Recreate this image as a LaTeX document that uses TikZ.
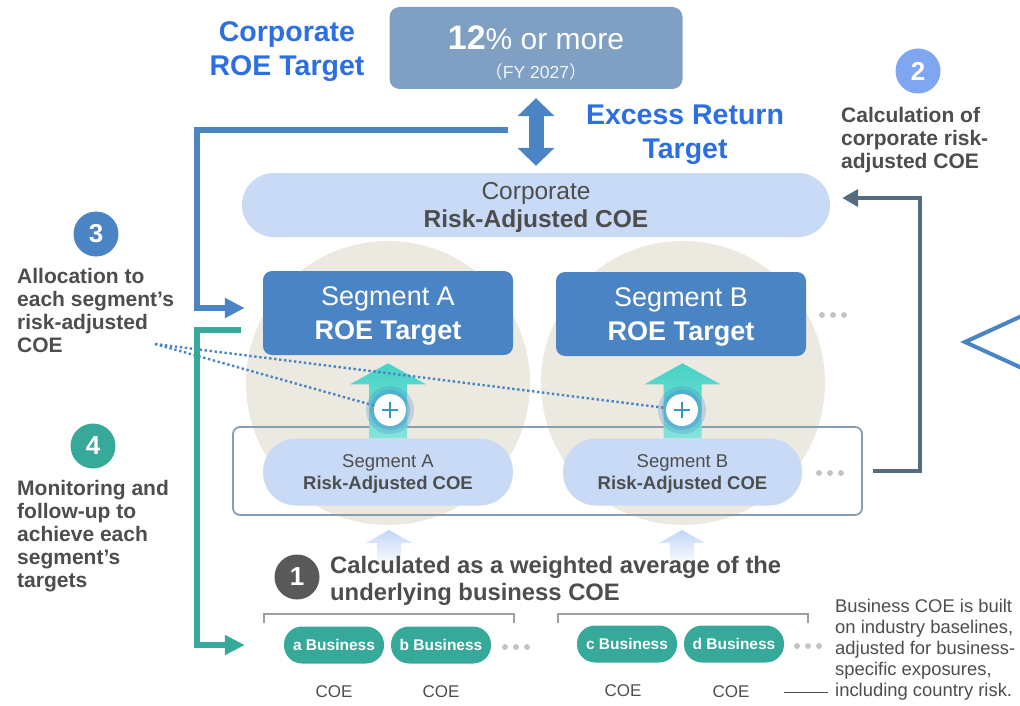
\documentclass[tikz,border=0pt]{standalone}
\usepackage{fontspec}
\setmainfont{Liberation Sans}
\newfontfamily\cjk{Noto Sans CJK JP}
\usetikzlibrary{arrows.meta,calc}

\definecolor{segblue}{HTML}{4A84C4}
\definecolor{headblue}{HTML}{2C6FE3}
\definecolor{topbox}{HTML}{7F9FC3}
\definecolor{paleblue}{HTML}{C9DAF7}
\definecolor{beige}{HTML}{ECE9E0}
\definecolor{mteal}{HTML}{36A99B}
\definecolor{slate}{HTML}{556B80}
\definecolor{txtgray}{HTML}{4D4D4D}
\definecolor{numgray}{HTML}{595959}
\definecolor{lightnum}{HTML}{7FA7F1}
\definecolor{framegray}{HTML}{8A9DB0}
\definecolor{dotgray}{HTML}{C4C4C4}
\definecolor{arrteal}{HTML}{45D3C5}
\definecolor{arrteal2}{HTML}{86E3DA}
\definecolor{plusteal}{HTML}{2E9CB8}
\definecolor{glowblue}{HTML}{3F86CF}
\definecolor{paleup}{HTML}{C3D6F7}

\newcommand{\fsz}[2]{\fontsize{#1}{#2}\selectfont}

\tikzset{
  roebox/.style={fill=segblue,rounded corners=9pt,minimum width=250pt,minimum height=84pt,
    text=white,align=center,inner sep=0pt,text depth=0pt,font=\fsz{27}{34}},
  coepill/.style={fill=paleblue,rounded corners=33pt,minimum height=67pt,
    text=txtgray,align=center,inner sep=0pt,text depth=0pt,font=\fsz{18.5}{22}},
  buspill/.style={fill=mteal,rounded corners=18pt,minimum width=100pt,minimum height=37pt,
    text=white,inner sep=0pt,font=\fsz{15.5}{18}\bfseries},
  numdot/.style={circle,minimum size=45pt,inner sep=0pt,text=white,font=\fsz{26}{26}\bfseries},
  note/.style={text=txtgray,align=left,inner sep=0pt,anchor=base west,font=\fsz{21}{23}\bfseries},
  coelbl/.style={text=txtgray,inner sep=0pt,font=\fsz{17}{20}},
  dotline/.style={segblue,line width=2.4pt,dash pattern=on 2.4pt off 2.6pt},
  plusdot/.style={circle,fill=white,minimum size=32pt,inner sep=0pt,
    path picture={\draw[plusteal,line width=2.6pt]
      ([xshift=-8pt]path picture bounding box.center) -- ([xshift=8pt]path picture bounding box.center)
      ([yshift=-8pt]path picture bounding box.center) -- ([yshift=8pt]path picture bounding box.center);}},
}

\begin{document}
\begin{tikzpicture}[x=1pt,y=-1pt]
\useasboundingbox (0,0) rectangle (1020,706);

% background discs
\node[circle,fill=beige,minimum size=284pt,inner sep=0pt] (discA) at (388,383) {};
\node[circle,fill=beige,minimum size=284pt,inner sep=0pt] (discB) at (683,383) {};

% corporate level
\node[text=headblue,align=center,anchor=base,inner sep=0pt,font=\fsz{28.5}{34}\bfseries] (corpttl) at (287,76) {Corporate\\ROE Target};
\node[fill=topbox,rounded corners=10pt,minimum width=293pt,minimum height=82pt,text=white,align=center,text depth=0pt,font=\fsz{30}{30}] (target) at (536,48)
  {\rule{0pt}{33pt}{\fsz{34}{34}\bfseries 12}\% or more\\[-1pt]{\fsz{17.5}{17.5}\color{white!90!topbox}{\cjk （}FY 2027{\cjk ）}}};
\node[text=headblue,align=center,anchor=base,inner sep=0pt,font=\fsz{28.5}{35}\bfseries] (excess) at (685,159) {Excess Return\\Target};
\node[fill=paleblue,rounded corners=32pt,minimum width=588pt,minimum height=64pt,text=txtgray,align=center,inner sep=0pt,text depth=0pt,font=\fsz{24.5}{28}] (corp) at (536,205)
  {Corporate\\\textbf{Risk-Adjusted COE}};
\draw[segblue,line width=15pt,{Triangle[length=18pt,width=36pt]}-{Triangle[length=18pt,width=36pt]}] ([yshift=-9pt]target.south) -- ([yshift=7pt]corp.north);

% segment level
\node[roebox] (roeA) at (388,313) {Segment A\\\textbf{ROE Target}};
\node[roebox] (roeB) at (681,314) {Segment B\\\textbf{ROE Target}};
\node[draw=framegray,line width=1.8pt,rounded corners=7pt,minimum width=629pt,minimum height=88pt] (frame) at (547.5,471) {};
\node[coepill,minimum width=250pt] (coeA) at (388,472) {Segment A\\\textbf{Risk-Adjusted COE}};
\node[coepill,minimum width=239pt] (coeB) at (682.5,472) {Segment B\\\textbf{Risk-Adjusted COE}};

% up arrows with plus
\foreach \s in {A,B}
  \shade[top color=arrteal,bottom color=arrteal2] (coe\s.north) ++(-19,0) -- ++(0,-54) -- ++(-19,0) -- ++(38,-21) -- ++(38,21) -- ++(-19,0) -- ++(0,54) -- cycle;
\foreach \s/\x in {A/390,B/682}{
  \fill[glowblue,opacity=0.25] (\x,410) circle (24pt);
  \fill[glowblue,opacity=0.3] (\x,410) circle (20pt);
  \node[plusdot] (plus\s) at (\x,410) {};
}
\foreach \x in {389,682}
  \shade[top color=paleup,bottom color=white] (\x,530) -- (\x+23,543) -- (\x+12,543) -- (\x+12,566) -- (\x-12,566) -- (\x-12,543) -- (\x-23,543) -- cycle;

% dots
\foreach \x/\y in {822/315,819/473,505/647,797/646}
  \foreach \d in {0,11,22} \fill[dotgray] (\x+\d,\y) circle (3pt);

% numbered notes
\node[numdot,fill=lightnum] (n2) at (918,71) {2};
\node[note] (t2) at (841,168) {Calculation of\\corporate risk-\\adjusted COE};
\node[numdot,fill=segblue] (n3) at (96,234) {3};
\node[note] (t3) at (17,352) {Allocation to\\each segment’s\\risk-adjusted\\COE};
\node[numdot,fill=mteal] (n4) at (93,446) {4};
\node[note] (t4) at (17,587) {Monitoring and\\follow-up to\\achieve each\\segment’s\\targets};
\node[numdot,fill=numgray] (n1) at (297,577) {1};
\node[note,font=\fsz{23.8}{27}\bfseries] (t1) at (330,600) {Calculated as a weighted average of the\\underlying business COE};

% business level
\draw[gray!75,line width=1.5pt] (264,623) |- (514,614) -- (514,623);
\draw[gray!75,line width=1.5pt] (558,623) |- (808,614) -- (808,623);
\node[buspill] (busA) at (334,645) {a Business};
\node[buspill] (busB) at (441,645) {b Business};
\node[buspill] (busC) at (627,644) {c Business};
\node[buspill] (busD) at (734,644) {d Business};
\node[coelbl] (cA) at (334,692) {COE};
\node[coelbl] (cB) at (441,692) {COE};
\node[coelbl] (cC) at (623,691) {COE};
\node[coelbl] (cD) at (731,692) {COE};
\node[anchor=base west,align=left,inner sep=0pt,text=txtgray,font=\fsz{18.4}{21}] (bnote) at (835,696)
  {Business COE is built\\on industry baselines,\\adjusted for business-\\specific exposures,\\including country risk.};
\draw[txtgray,line width=1pt] ([xshift=34pt]cD.east) -- ([xshift=-7pt]bnote.base west |- cD.east);

% connectors
\coordinate (alloc) at (155,344);
\draw[dotline] (alloc) -- (plusA);
\draw[dotline] (alloc) -- (plusB);
\coordinate (bl) at (508,130);
\draw[segblue,line width=6pt,-{Triangle[length=20pt,width=19pt]}] (bl) -| ([xshift=-66pt,yshift=5pt]roeA.west) -- ([xshift=-18pt,yshift=5pt]roeA.west);
\coordinate (mon) at (241,330);
\draw[mteal,line width=6pt,-{Triangle[length=20pt,width=19pt]}] (mon) -| ([xshift=-87pt]busA.west) -- ([xshift=-39pt]busA.west);
\draw[slate,line width=4.5pt,-{Triangle[length=16pt,width=17pt]}] ([xshift=10pt]frame.east) -| ([xshift=90pt,yshift=7pt]corp.east) -- ([xshift=12pt,yshift=7pt]corp.east);
\draw[segblue,line width=4pt] (1024,315) -- (965,342) -- (1024,369);
\end{tikzpicture}
\end{document}
